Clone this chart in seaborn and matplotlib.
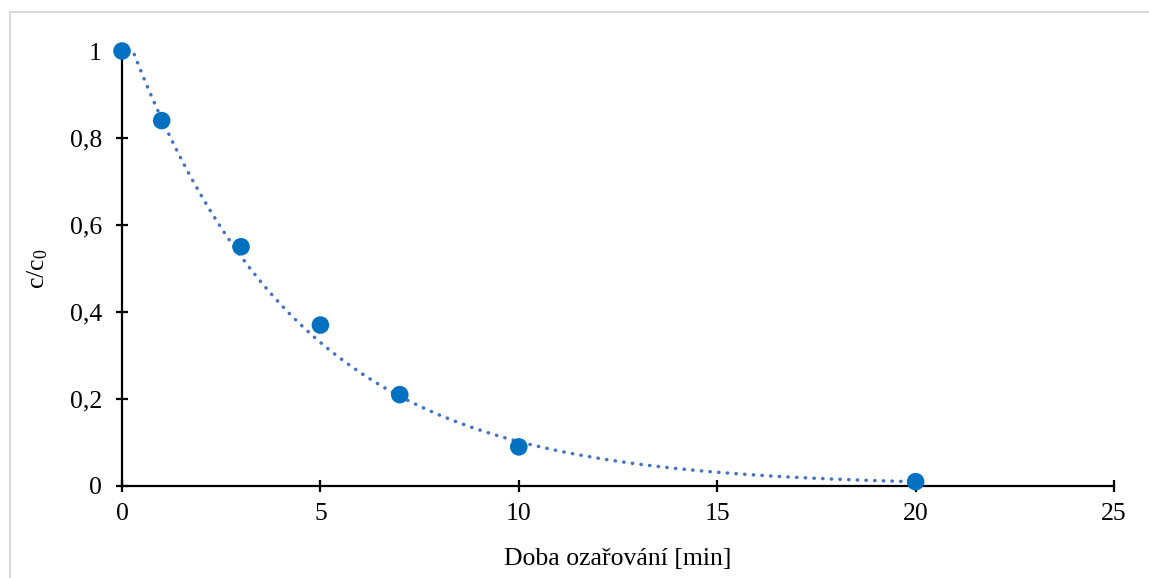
import numpy as np
import pandas as pd
import seaborn as sns
import matplotlib.pyplot as plt
from matplotlib.ticker import FuncFormatter
from matplotlib.lines import Line2D

# Data
cas_min = [0, 1, 3, 5, 7, 10, 20]
c_c0 = [1.0, 0.84, 0.55, 0.37, 0.21, 0.09, 0.01]
x_ticks = [0, 5, 10, 15, 20, 25]
y_ticks = [0, 0.2, 0.4, 0.6, 0.8, 1.0]

df = pd.DataFrame({'t': cas_min, 'c': c_c0})

# Exponential trendline (least squares on log values, like Excel)
b, ln_a = np.polyfit(df['t'], np.log(df['c']), 1)
t_fit = np.linspace(0, max(cas_min), 300)
trend = pd.DataFrame({'t': t_fit, 'c': np.exp(ln_a) * np.exp(b * t_fit)})

sns.set_theme(style='white')
plt.rcParams['font.family'] = ['Liberation Serif', 'DejaVu Serif']
plt.rcParams['mathtext.default'] = 'regular'

fig = plt.figure(figsize=(11.49, 5.78), dpi=100)
ax = fig.add_axes([122 / 1149, 1 - 486 / 578, (1114 - 122) / 1149, (486 - 51) / 578])

# light frame (only top and left edges visible in the picture)
top_y = 1 - 11.5 / 578
left_x = 9.5 / 1149
fig.add_artist(Line2D([left_x, 1], [top_y, top_y], transform=fig.transFigure,
                      color='#d9d9d9', linewidth=1.5))
fig.add_artist(Line2D([left_x, left_x], [0, top_y], transform=fig.transFigure,
                      color='#d9d9d9', linewidth=1.5))

sns.lineplot(data=trend, x='t', y='c', ax=ax, color='#4472C4', linewidth=2.5,
             linestyle=(0, (0.1, 2.4)))
ax.lines[-1].set_dash_capstyle('round')
sns.scatterplot(data=df, x='t', y='c', ax=ax, color='#0070C0', s=160,
                edgecolor='none', clip_on=False, zorder=5)

ax.set_xlim(0, 25)
ax.set_ylim(0, 1)
ax.set_xticks(x_ticks)
ax.set_yticks(y_ticks)
fmt = FuncFormatter(lambda v, p: ('%g' % v).replace('.', ','))
ax.xaxis.set_major_formatter(fmt)
ax.yaxis.set_major_formatter(fmt)

for s in ['top', 'right']:
    ax.spines[s].set_visible(False)
for s in ['left', 'bottom']:
    ax.spines[s].set_color('black')
    ax.spines[s].set_linewidth(1.6)

ax.tick_params(axis='both', direction='inout', length=9, width=1.6,
               color='black', labelsize=18.5, labelcolor='black')
ax.tick_params(axis='y', pad=10, left=True)
ax.tick_params(axis='x', pad=8, bottom=True)

ax.set_xlabel('Doba ozařování [min]', fontsize=18.5, color='black', labelpad=16)
ax.set_ylabel('c/c$_{0}$', fontsize=18.5, color='black', labelpad=14)

fig.savefig('out.png', dpi=100)
